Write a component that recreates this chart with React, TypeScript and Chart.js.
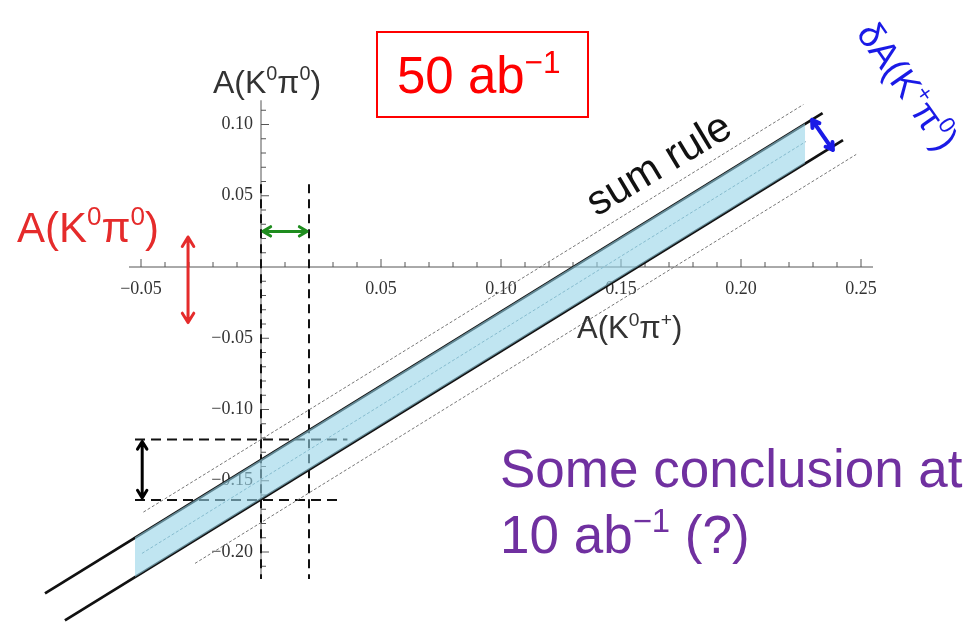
import React, { useEffect, useRef } from "react";
import { Chart, registerables } from "chart.js";

Chart.register(...registerables);

// ---- axis ranges / ticks ----
const xRange = [-0.06, 0.26];
const yRange = [-0.22, 0.12];
const xAxisExtent = [-0.055, 0.255];
const yAxisExtent = [-0.216, 0.117];
const xMajorTicks = [-0.05, 0.05, 0.1, 0.15, 0.2, 0.25];
const xTickLabels = ["−0.05", "0.05", "0.10", "0.15", "0.20", "0.25"];
const yMajorTicks = [0.1, 0.05, -0.05, -0.1, -0.15, -0.2];
const yTickLabels = ["0.10", "0.05", "−0.05", "−0.10", "−0.15", "−0.20"];

// ---- sum-rule band lines ----
const upperThickX = [-0.09, 0.234];
const upperThickY = [-0.229, 0.108];
const lowerThickX = [-0.0817, 0.2425];
const lowerThickY = [-0.248, 0.089];
const upperOuterX = [-0.049, 0.226];
const upperOuterY = [-0.172, 0.114];
const lowerOuterX = [-0.0275, 0.248];
const lowerOuterY = [-0.208, 0.079];
const centerX = [-0.0496, 0.227];
const centerY = [-0.201, 0.088];
const bandX = [-0.0525, 0.2267];
const bandUpperY = [-0.1896, 0.1008];
const bandLowerY = [-0.2176, 0.0728];

// ---- reference dashed lines ----
const vDash1X = [0, 0];
const vDash1Y = [0.058, -0.219];
const vDash2X = [0.02, 0.02];
const vDash2Y = [0.058, -0.219];
const hDash1X = [-0.0525, 0.036];
const hDash1Y = [-0.121, -0.121];
const hDash2X = [-0.0525, 0.033];
const hDash2Y = [-0.1635, -0.1635];

// ---- arrows (data coordinates) ----
const greenArrow = [0, 0.025, 0.02, 0.025];
const redArrow = [-0.0304, 0.021, -0.0304, -0.039];
const blackArrow = [-0.0495, -0.121, -0.0495, -0.1635];
const blueArrow = [0.2296, 0.1032, 0.2383, 0.0821];

type Seg = { t: string; sup?: boolean };
const axisYTitle: Seg[] = [{ t: "A(K" }, { t: "0", sup: true }, { t: "π" }, { t: "0", sup: true }, { t: ")" }];
const axisXTitle: Seg[] = [{ t: "A(K" }, { t: "0", sup: true }, { t: "π" }, { t: "+", sup: true }, { t: ")" }];
const boxText: Seg[] = [{ t: "50 ab" }, { t: "−1", sup: true }];
const redLabel: Seg[] = [{ t: "A(K" }, { t: "0", sup: true }, { t: "π" }, { t: "0", sup: true }, { t: ")" }];
const sumRuleLabel: Seg[] = [{ t: "sum rule" }];
const deltaLabel: Seg[] = [{ t: "δA(K" }, { t: "+", sup: true }, { t: "π" }, { t: "0", sup: true }, { t: ")" }];
const conclusion1: Seg[] = [{ t: "Some conclusion at" }];
const conclusion2: Seg[] = [{ t: "10 ab" }, { t: "−1", sup: true }, { t: " (?)" }];

const SANS = "'Liberation Sans', Arial, sans-serif";
const SERIF = "'Liberation Serif', 'Times New Roman', serif";

function pts(xs: number[], ys: number[]) {
  return xs.map((x, i) => ({ x, y: ys[i] }));
}

function richWidth(ctx: CanvasRenderingContext2D, segs: Seg[], size: number) {
  let w = 0;
  for (const s of segs) {
    ctx.font = `${s.sup ? size * 0.62 : size}px ${SANS}`;
    w += ctx.measureText(s.t).width;
  }
  return w;
}

function drawRich(ctx: CanvasRenderingContext2D, segs: Seg[], x: number, y: number, size: number, color: string) {
  ctx.fillStyle = color;
  ctx.textBaseline = "alphabetic";
  ctx.textAlign = "left";
  let cx = x;
  for (const s of segs) {
    const fs = s.sup ? size * 0.62 : size;
    ctx.font = `${fs}px ${SANS}`;
    ctx.fillText(s.t, cx, s.sup ? y - size * 0.4 : y);
    cx += ctx.measureText(s.t).width;
  }
}

function drawArrow(ctx: CanvasRenderingContext2D, x1: number, y1: number, x2: number, y2: number, color: string, lw: number, head: number) {
  const ang = Math.atan2(y2 - y1, x2 - x1);
  ctx.save();
  ctx.strokeStyle = color;
  ctx.lineWidth = lw;
  ctx.lineCap = "round";
  ctx.lineJoin = "round";
  ctx.beginPath();
  ctx.moveTo(x1, y1);
  ctx.lineTo(x2, y2);
  const heads: [number, number, number][] = [
    [x2, y2, ang],
    [x1, y1, ang + Math.PI],
  ];
  for (const [hx, hy, a] of heads) {
    ctx.moveTo(hx - head * Math.cos(a - 0.55), hy - head * Math.sin(a - 0.55));
    ctx.lineTo(hx, hy);
    ctx.lineTo(hx - head * Math.cos(a + 0.55), hy - head * Math.sin(a + 0.55));
  }
  ctx.stroke();
  ctx.restore();
}

const axesPlugin = {
  id: "mathAxes",
  beforeDatasetsDraw(chart: any) {
    const ctx: CanvasRenderingContext2D = chart.ctx;
    const xs = chart.scales.x;
    const ys = chart.scales.y;
    const x0 = xs.getPixelForValue(0);
    const y0 = ys.getPixelForValue(0);
    ctx.save();
    ctx.strokeStyle = "#555";
    ctx.lineWidth = 1;
    ctx.beginPath();
    ctx.moveTo(xs.getPixelForValue(xAxisExtent[0]), y0);
    ctx.lineTo(xs.getPixelForValue(xAxisExtent[1]), y0);
    ctx.moveTo(x0, ys.getPixelForValue(yAxisExtent[0]));
    ctx.lineTo(x0, ys.getPixelForValue(yAxisExtent[1]));
    for (let i = -5; i <= 25; i++) {
      const v = i / 100;
      const px = xs.getPixelForValue(v);
      const len = i % 5 === 0 ? 8 : 5;
      ctx.moveTo(px, y0);
      ctx.lineTo(px, y0 - len);
    }
    for (let i = -21; i <= 11; i++) {
      if (i === 0) continue;
      const v = i / 100;
      const py = ys.getPixelForValue(v);
      const len = i % 5 === 0 ? 8 : 5;
      ctx.moveTo(x0, py);
      ctx.lineTo(x0 + len, py);
    }
    ctx.stroke();
    ctx.fillStyle = "#333";
    ctx.font = `18px ${SERIF}`;
    ctx.textAlign = "center";
    ctx.textBaseline = "top";
    xMajorTicks.forEach((v, i) => {
      ctx.fillText(xTickLabels[i], xs.getPixelForValue(v), y0 + 13);
    });
    ctx.textAlign = "right";
    ctx.textBaseline = "middle";
    yMajorTicks.forEach((v, i) => {
      ctx.fillText(yTickLabels[i], x0 - 8, ys.getPixelForValue(v));
    });
    ctx.restore();
  },
  afterDraw(chart: any) {
    const ctx: CanvasRenderingContext2D = chart.ctx;
    const xs = chart.scales.x;
    const ys = chart.scales.y;
    const P = (a: number[]) => [xs.getPixelForValue(a[0]), ys.getPixelForValue(a[1]), xs.getPixelForValue(a[2]), ys.getPixelForValue(a[3])];
    let p = P(greenArrow);
    drawArrow(ctx, p[0] + 2, p[1], p[2] - 2, p[3], "#1e8c1e", 3, 9);
    p = P(redArrow);
    drawArrow(ctx, p[0], p[1], p[2], p[3], "#e52b2b", 3, 11);
    p = P(blackArrow);
    drawArrow(ctx, p[0], p[1] + 2, p[2], p[3] - 2, "#000", 3, 9);
    p = P(blueArrow);
    drawArrow(ctx, p[0], p[1], p[2], p[3], "#1a1ae6", 4, 8);

    ctx.save();
    drawRich(ctx, axisYTitle, 213, 93, 32, "#333");
    drawRich(ctx, axisXTitle, 577, 338, 31, "#333");
    ctx.strokeStyle = "#f00";
    ctx.lineWidth = 2;
    ctx.strokeRect(377, 32, 211, 85);
    drawRich(ctx, boxText, 397, 93, 51, "#f00");
    drawRich(ctx, redLabel, 17, 242, 42, "#e52b2b");
    drawRich(ctx, conclusion1, 500, 487, 53, "#7030a0");
    drawRich(ctx, conclusion2, 500, 553, 53, "#7030a0");
    const rot = (segs: Seg[], cx: number, cy: number, deg: number, size: number, color: string) => {
      ctx.save();
      ctx.translate(cx, cy);
      ctx.rotate((deg * Math.PI) / 180);
      const w = richWidth(ctx, segs, size);
      drawRich(ctx, segs, -w / 2, size * 0.35, size, color);
      ctx.restore();
    };
    rot(sumRuleLabel, 658, 163, -31, 42, "#111");
    rot(deltaLabel, 908, 86, 55, 37, "#1a1ae6");
    ctx.restore();
  },
};

export default function App() {
  const ref = useRef<HTMLCanvasElement>(null);
  useEffect(() => {
    if (!ref.current) return;
    const line = (data: any, color: string, width: number, dash: number[] = [], extra: any = {}) => ({
      data,
      borderColor: color,
      borderWidth: width,
      borderDash: dash,
      pointRadius: 0,
      showLine: true,
      fill: false,
      clip: false,
      tension: 0,
      ...extra,
    });
    const chart = new Chart(ref.current, {
      type: "scatter",
      data: {
        datasets: [
          line(pts(bandX, bandUpperY), "rgba(0,0,0,0)", 0, [], { fill: "+1", backgroundColor: "rgba(150,212,232,0.6)" }),
          line(pts(bandX, bandLowerY), "rgba(0,0,0,0)", 0),
          line(pts(centerX, centerY), "#6f98a8", 1, [3, 2]),
          line(pts(upperOuterX, upperOuterY), "#777", 1, [3, 2]),
          line(pts(lowerOuterX, lowerOuterY), "#777", 1, [3, 2]),
          line(pts(upperThickX, upperThickY), "#111", 2.8),
          line(pts(lowerThickX, lowerThickY), "#111", 2.8),
          line(pts(vDash1X, vDash1Y), "#111", 2, [9, 6]),
          line(pts(vDash2X, vDash2Y), "#111", 2, [9, 6]),
          line(pts(hDash1X, hDash1Y), "#111", 2, [10, 6]),
          line(pts(hDash2X, hDash2Y), "#111", 2, [10, 6]),
        ],
      },
      options: {
        responsive: false,
        animation: false,
        layout: { padding: { left: 117, right: 93, top: 96, bottom: 44.5 } },
        plugins: { legend: { display: false }, tooltip: { enabled: false } },
        scales: {
          x: { type: "linear", min: xRange[0], max: xRange[1], display: false },
          y: { type: "linear", min: yRange[0], max: yRange[1], display: false },
        },
      },
      plugins: [axesPlugin],
    } as any);
    return () => chart.destroy();
  }, []);
  return (
    <div style={{ position: "absolute", left: 0, top: 0, width: 978, height: 625, background: "#fff" }}>
      <canvas ref={ref} width={978} height={625} />
    </div>
  );
}
